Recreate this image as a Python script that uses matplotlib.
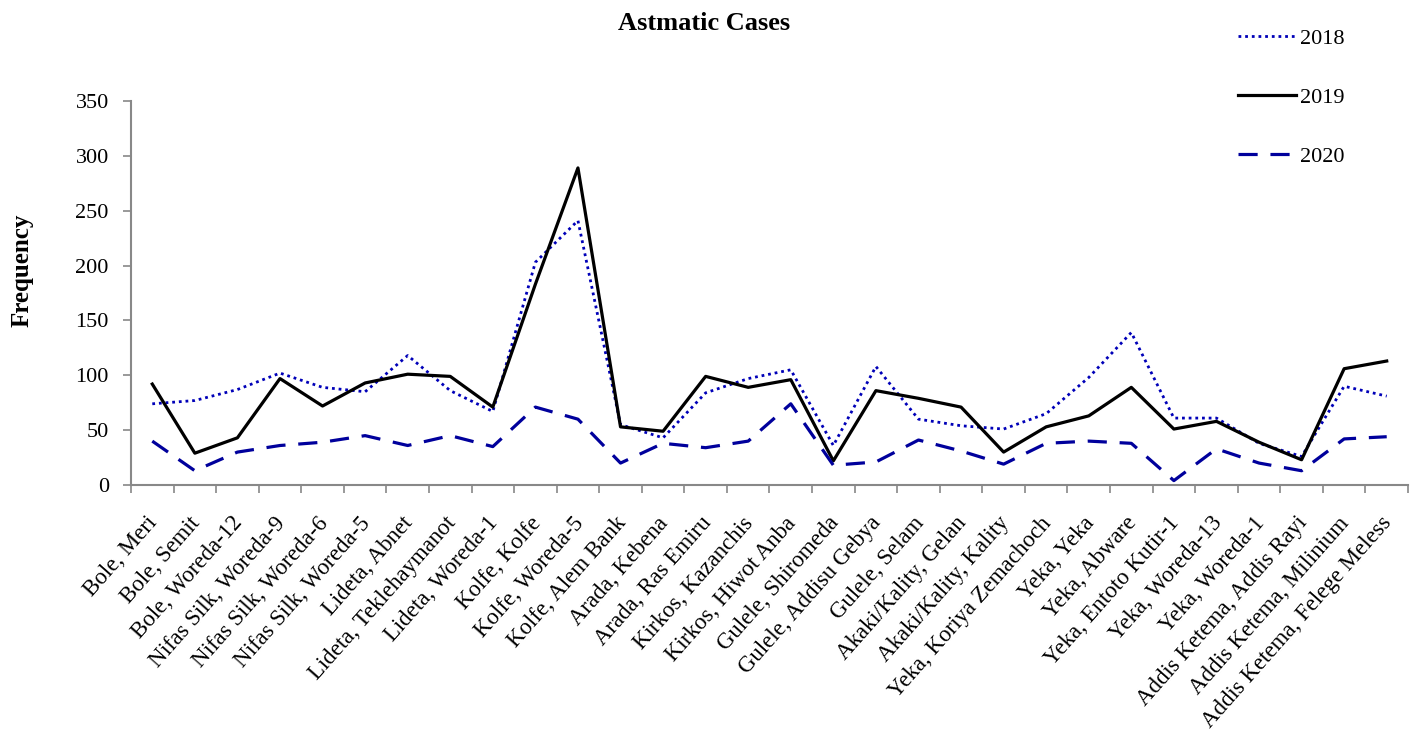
import matplotlib
matplotlib.use("Agg")
import matplotlib.pyplot as plt
from matplotlib.ticker import FixedLocator, NullFormatter
from matplotlib.transforms import ScaledTranslation

plt.rcParams["font.family"] = ["Liberation Serif", "DejaVu Serif"]

# sites (sub-city, woreda)
sites = [
    "Bole, Meri", "Bole, Semit", "Bole, Woreda-12", "Nifas Silk, Woreda-9",
    "Nifas Silk, Woreda-6", "Nifas Silk, Woreda-5", "Lideta, Abnet",
    "Lideta, Teklehaymanot", "Lideta, Woreda-1", "Kolfe, Kolfe",
    "Kolfe, Woreda-5", "Kolfe, Alem Bank", "Arada, Kebena", "Arada, Ras Emiru",
    "Kirkos, Kazanchis", "Kirkos, Hiwot Anba", "Gulele, Shiromeda",
    "Gulele, Addisu Gebya", "Gulele, Selam", "Akaki/Kality, Gelan",
    "Akaki/Kality, Kality", "Yeka, Koriya Zemachoch", "Yeka, Yeka",
    "Yeka, Abware", "Yeka, Entoto Kutir-1", "Yeka, Woreda-13", "Yeka, Woreda-1",
    "Addis Ketema, Addis Rayi", "Addis Ketema, Milinium",
    "Addis Ketema, Felege Meless",
]

# yearly cases per site
cases_2018 = [74, 77, 87, 102, 89, 85, 118, 86, 67, 203, 241, 55, 43, 84, 97,
              105, 36, 108, 60, 54, 51, 65, 98, 139, 61, 61, 38, 26, 90, 81]
cases_2019 = [92, 29, 43, 97, 72, 93, 101, 99, 71, 183, 289, 53, 49, 99, 89,
              96, 22, 86, 79, 71, 30, 53, 63, 89, 51, 58, 39, 23, 106, 113]
cases_2020 = [40, 13, 30, 36, 39, 45, 36, 45, 35, 71, 60, 20, 38, 34, 40,
              74, 18, 21, 41, 31, 19, 38, 40, 38, 4, 33, 20, 13, 42, 44]

x = list(range(len(sites)))

fig = plt.figure(figsize=(14.16, 7.38), dpi=100)
ax = fig.add_axes([131 / 1416, 1 - 485 / 738, (1408 - 131) / 1416, (485 - 101) / 738])

ax.plot(x, cases_2018, color="#0000b8", lw=2.0, linestyle=(0, (1, 1.4)), label="2018")
ax.plot(x, cases_2019, color="black", lw=2.3, label="2019")
ax.plot(x, cases_2020, color="#00009c", lw=2.3, linestyle=(0, (6, 4)), label="2020")

ax.set_xlim(-0.5, len(sites) - 0.5)
ax.set_ylim(0, 350)
ax.set_yticks(range(0, 351, 50))

# boundary ticks between sites, labels at the site centres
ax.xaxis.set_major_locator(FixedLocator([i - 0.5 for i in range(len(sites) + 1)]))
ax.xaxis.set_major_formatter(NullFormatter())
ax.set_xticks(x, minor=True)
ax.set_xticklabels(sites, minor=True, rotation=48.5, ha="right",
                   rotation_mode="anchor", fontsize=16.5)
ax.tick_params(axis="x", which="minor", length=0, pad=20)
ax.tick_params(axis="x", which="major", length=6, width=1.2, color="#888888")
ax.tick_params(axis="y", length=6, width=1.2, color="#888888", labelsize=16, pad=10)

shift = ScaledTranslation(-6 / 100, 0, fig.dpi_scale_trans)
for lbl in ax.get_xticklabels(minor=True):
    lbl.set_transform(lbl.get_transform() + shift)

for side in ("top", "right"):
    ax.spines[side].set_visible(False)
for side in ("left", "bottom"):
    ax.spines[side].set_color("#888888")
    ax.spines[side].set_linewidth(1.5)

fig.text(704 / 1416, 1 - 24 / 738, "Astmatic Cases", ha="center", va="center",
         fontsize=19, fontweight="bold")
fig.text(22 / 1416, 1 - 270 / 738, "Frequency", ha="center", va="center",
         rotation=90, fontsize=18, fontweight="bold")

ax.legend(loc="upper left", bbox_to_anchor=(1238 / 1416, 1 - 28 / 738),
          bbox_transform=fig.transFigure, frameon=False, fontsize=16,
          borderpad=0, borderaxespad=0,
          handlelength=2.6, handletextpad=0.2, labelspacing=1.74)

fig.savefig("out.png", dpi=100)
